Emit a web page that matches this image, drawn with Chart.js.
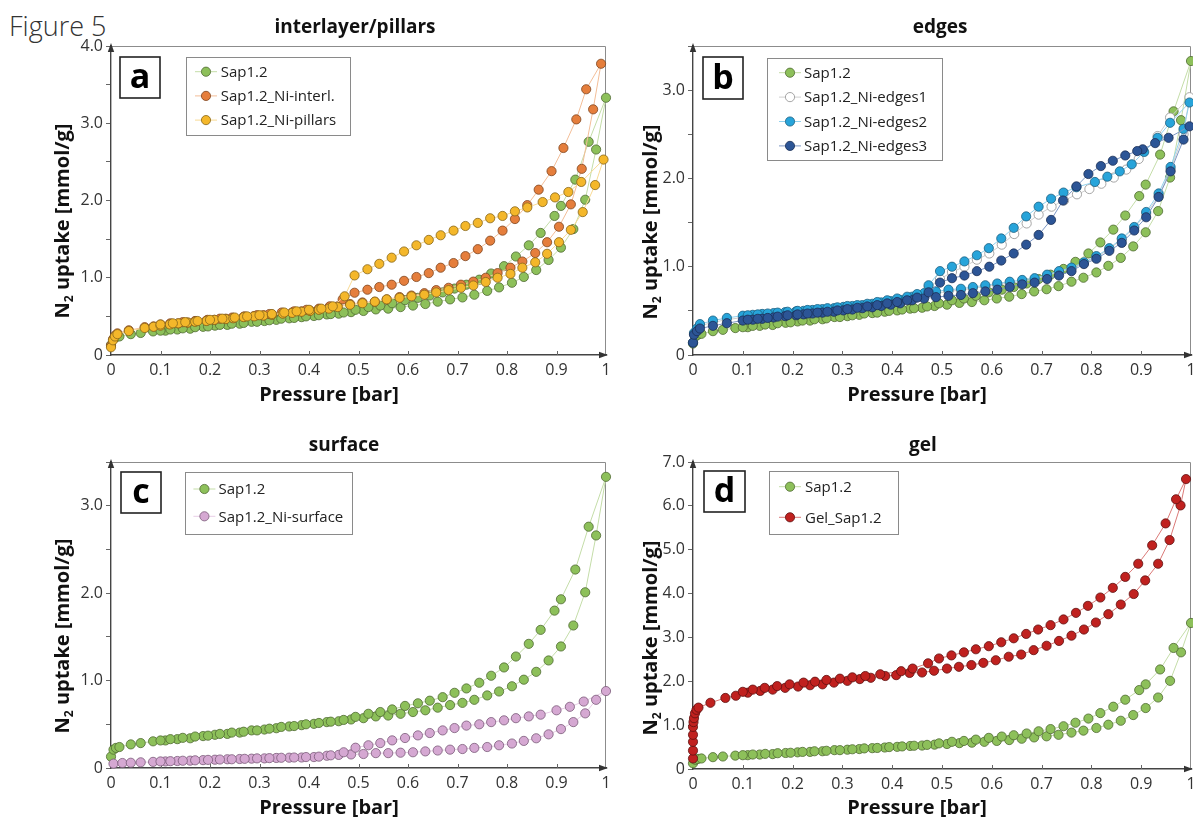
<!DOCTYPE html>
<html><head><meta charset="utf-8">
<script src="https://cdn.jsdelivr.net/npm/chart.js@4.4.1/dist/chart.umd.min.js"></script>
<style>
html,body{margin:0;padding:0;background:#fff;}
body{width:1193px;height:819px;position:relative;overflow:hidden;font-family:'Open Sans',sans-serif;}
#fig{position:absolute;left:9px;top:13px;font-size:27px;line-height:26px;color:#333;font-weight:300;white-space:nowrap;}
canvas{position:absolute;}
</style></head><body>
<div id="fig">Figure 5</div>
<canvas id="ca"></canvas><canvas id="cb"></canvas><canvas id="cc"></canvas><canvas id="cd"></canvas>
<script>
// ---------------- DATA (pressure [bar] / N2 uptake [mmol/g]) ----------------
const sapAdsP = [0, 0.005, 0.01, 0.017, 0.04, 0.06, 0.085, 0.11, 0.134, 0.16, 0.186, 0.21, 0.235, 0.26, 0.284, 0.31, 0.334, 0.36, 0.385, 0.41, 0.436, 0.46, 0.485, 0.51, 0.535, 0.56, 0.585, 0.61, 0.635, 0.66, 0.685, 0.71, 0.734, 0.76, 0.784, 0.81, 0.834, 0.859, 0.884, 0.909, 0.934, 0.958, 0.98, 1.0];
const sapAdsN = [0.13, 0.21, 0.23, 0.24, 0.27, 0.285, 0.305, 0.315, 0.33, 0.34, 0.365, 0.38, 0.39, 0.405, 0.43, 0.44, 0.455, 0.475, 0.49, 0.505, 0.525, 0.535, 0.555, 0.57, 0.59, 0.6, 0.62, 0.64, 0.66, 0.69, 0.72, 0.745, 0.78, 0.83, 0.875, 0.935, 1.01, 1.1, 1.23, 1.39, 1.63, 2.01, 2.66, 3.33];
const sapDesP = [0.965, 0.938, 0.909, 0.896, 0.868, 0.844, 0.818, 0.794, 0.768, 0.744, 0.718, 0.694, 0.67, 0.644, 0.62, 0.594, 0.568, 0.544, 0.52, 0.494, 0.47, 0.444, 0.42, 0.394, 0.37, 0.344, 0.32, 0.295, 0.268, 0.244, 0.22, 0.196, 0.17, 0.145, 0.12, 0.1];
const sapDesN = [2.76, 2.27, 1.93, 1.8, 1.58, 1.42, 1.275, 1.15, 1.055, 0.975, 0.91, 0.86, 0.81, 0.77, 0.74, 0.71, 0.67, 0.64, 0.62, 0.585, 0.55, 0.53, 0.515, 0.5, 0.48, 0.47, 0.45, 0.43, 0.415, 0.405, 0.39, 0.37, 0.36, 0.345, 0.33, 0.315];

const interlAdsP = [0, 0.004, 0.008, 0.013, 0.036, 0.068, 0.086, 0.1, 0.119, 0.136, 0.155, 0.17, 0.193, 0.209, 0.232, 0.247, 0.268, 0.289, 0.308, 0.325, 0.347, 0.366, 0.385, 0.402, 0.42, 0.44, 0.458, 0.483, 0.508, 0.533, 0.557, 0.583, 0.607, 0.633, 0.657, 0.682, 0.707, 0.732, 0.757, 0.781, 0.807, 0.831, 0.857, 0.881, 0.905, 0.929, 0.951, 0.974, 0.99];
const interlAdsN = [0.12, 0.2, 0.25, 0.28, 0.32, 0.36, 0.37, 0.385, 0.4, 0.41, 0.42, 0.435, 0.445, 0.455, 0.47, 0.48, 0.495, 0.505, 0.515, 0.525, 0.54, 0.55, 0.565, 0.575, 0.59, 0.61, 0.63, 0.66, 0.68, 0.69, 0.72, 0.75, 0.77, 0.8, 0.84, 0.87, 0.91, 0.95, 1.0, 1.06, 1.13, 1.21, 1.32, 1.46, 1.66, 1.95, 2.41, 3.18, 3.77];
const interlDesP = [0.96, 0.94, 0.914, 0.89, 0.864, 0.841, 0.816, 0.791, 0.766, 0.741, 0.716, 0.692, 0.666, 0.642, 0.617, 0.592, 0.567, 0.542, 0.518, 0.492, 0.468, 0.442, 0.42, 0.395, 0.37, 0.345, 0.32, 0.295, 0.27, 0.245, 0.22, 0.195, 0.17, 0.145, 0.12, 0.1];
const interlDesN = [3.44, 3.05, 2.68, 2.38, 2.14, 1.94, 1.76, 1.61, 1.48, 1.37, 1.28, 1.19, 1.13, 1.06, 1.01, 0.96, 0.91, 0.88, 0.845, 0.806, 0.72, 0.63, 0.6, 0.585, 0.565, 0.55, 0.53, 0.515, 0.5, 0.485, 0.47, 0.455, 0.44, 0.425, 0.41, 0.395];

const pillarsAdsP = [0, 0.004, 0.008, 0.013, 0.036, 0.068, 0.086, 0.1, 0.119, 0.136, 0.155, 0.17, 0.193, 0.209, 0.232, 0.247, 0.268, 0.289, 0.308, 0.325, 0.347, 0.366, 0.385, 0.402, 0.42, 0.44, 0.458, 0.483, 0.508, 0.533, 0.557, 0.583, 0.607, 0.633, 0.657, 0.682, 0.707, 0.732, 0.757, 0.781, 0.807, 0.831, 0.857, 0.881, 0.905, 0.929, 0.953, 0.978, 0.995];
const pillarsAdsN = [0.1, 0.19, 0.24, 0.27, 0.31, 0.35, 0.365, 0.38, 0.395, 0.41, 0.42, 0.43, 0.44, 0.455, 0.465, 0.475, 0.49, 0.5, 0.51, 0.52, 0.535, 0.545, 0.56, 0.57, 0.585, 0.6, 0.62, 0.65, 0.67, 0.69, 0.72, 0.74, 0.76, 0.78, 0.81, 0.84, 0.87, 0.9, 0.945, 1.0, 1.05, 1.13, 1.2, 1.31, 1.46, 1.62, 1.85, 2.2, 2.53];
const pillarsDesP = [0.95, 0.924, 0.897, 0.872, 0.841, 0.816, 0.791, 0.766, 0.741, 0.716, 0.692, 0.666, 0.642, 0.617, 0.592, 0.567, 0.542, 0.518, 0.492, 0.472, 0.448, 0.425, 0.4, 0.375, 0.35, 0.325, 0.3, 0.275, 0.25, 0.225, 0.2, 0.175, 0.15, 0.125, 0.1];
const pillarsDesN = [2.24, 2.11, 2.04, 1.98, 1.91, 1.86, 1.8, 1.77, 1.71, 1.67, 1.61, 1.55, 1.49, 1.42, 1.34, 1.26, 1.18, 1.11, 1.03, 0.76, 0.63, 0.6, 0.585, 0.565, 0.55, 0.53, 0.515, 0.5, 0.485, 0.47, 0.455, 0.44, 0.425, 0.41, 0.395];

const edgesAdsP = [0, 0.002, 0.008, 0.014, 0.04, 0.068, 0.1, 0.12, 0.139, 0.162, 0.185, 0.207, 0.222, 0.24, 0.26, 0.283, 0.302, 0.32, 0.34, 0.36, 0.378, 0.397, 0.416, 0.44, 0.464, 0.488, 0.513, 0.538, 0.562, 0.587, 0.611, 0.636, 0.661, 0.686, 0.711, 0.735, 0.76, 0.785, 0.81, 0.836, 0.861, 0.886, 0.91, 0.935, 0.959, 0.985, 0.997];
const edges1AdsN = [0.14, 0.24, 0.29, 0.33, 0.37, 0.4, 0.425, 0.435, 0.445, 0.455, 0.465, 0.475, 0.48, 0.49, 0.5, 0.51, 0.525, 0.535, 0.545, 0.56, 0.575, 0.59, 0.605, 0.64, 0.68, 0.7, 0.72, 0.735, 0.755, 0.775, 0.795, 0.815, 0.835, 0.86, 0.9, 0.94, 0.98, 1.04, 1.11, 1.2, 1.31, 1.44, 1.6, 1.8, 2.1, 2.5, 2.92];
const edges1DesP = [0.958, 0.933, 0.895, 0.87, 0.845, 0.82, 0.796, 0.771, 0.745, 0.72, 0.694, 0.67, 0.645, 0.62, 0.595, 0.57, 0.545, 0.52, 0.496, 0.473, 0.45, 0.43, 0.41, 0.39, 0.37, 0.35, 0.33, 0.31, 0.29, 0.27, 0.25, 0.23, 0.21, 0.19, 0.17, 0.15];
const edges1DesN = [2.69, 2.48, 2.22, 2.1, 2.01, 1.94, 1.88, 1.82, 1.75, 1.68, 1.59, 1.49, 1.37, 1.25, 1.15, 1.08, 1.0, 0.94, 0.86, 0.76, 0.67, 0.64, 0.62, 0.6, 0.58, 0.56, 0.545, 0.535, 0.52, 0.51, 0.5, 0.49, 0.48, 0.47, 0.46, 0.45];
const edges2AdsN = [0.14, 0.25, 0.3, 0.35, 0.39, 0.42, 0.445, 0.455, 0.465, 0.475, 0.485, 0.495, 0.5, 0.51, 0.52, 0.53, 0.545, 0.555, 0.565, 0.58, 0.595, 0.61, 0.625, 0.66, 0.7, 0.72, 0.74, 0.75, 0.77, 0.79, 0.81, 0.83, 0.85, 0.87, 0.91, 0.95, 0.99, 1.05, 1.12, 1.21, 1.32, 1.45, 1.62, 1.83, 2.13, 2.56, 2.86];
const edges2DesP = [0.958, 0.933, 0.906, 0.881, 0.857, 0.832, 0.807, 0.77, 0.744, 0.719, 0.694, 0.669, 0.644, 0.619, 0.594, 0.57, 0.545, 0.52, 0.496, 0.473, 0.45, 0.43, 0.41, 0.39, 0.37, 0.35, 0.33, 0.31, 0.29, 0.27, 0.25, 0.23, 0.21, 0.19, 0.17, 0.15, 0.13, 0.11];
const edges2DesN = [2.63, 2.46, 2.3, 2.16, 2.08, 2.02, 1.96, 1.9, 1.84, 1.77, 1.68, 1.57, 1.44, 1.32, 1.21, 1.13, 1.06, 1.0, 0.95, 0.79, 0.69, 0.66, 0.64, 0.62, 0.6, 0.58, 0.565, 0.555, 0.54, 0.53, 0.52, 0.51, 0.5, 0.49, 0.48, 0.47, 0.46, 0.45];
const edges3AdsN = [0.14, 0.23, 0.27, 0.3, 0.33, 0.36, 0.39, 0.4, 0.41, 0.425, 0.44, 0.45, 0.46, 0.47, 0.48, 0.49, 0.505, 0.515, 0.53, 0.54, 0.555, 0.57, 0.585, 0.62, 0.64, 0.655, 0.67, 0.68, 0.7, 0.72, 0.74, 0.77, 0.8, 0.82, 0.86, 0.9, 0.95, 1.03, 1.09, 1.18, 1.27, 1.41, 1.56, 1.79, 2.08, 2.44, 2.59];
const edges3DesP = [0.955, 0.928, 0.903, 0.892, 0.868, 0.843, 0.819, 0.794, 0.77, 0.743, 0.719, 0.694, 0.669, 0.644, 0.619, 0.595, 0.57, 0.545, 0.52, 0.496, 0.473, 0.45, 0.43, 0.41, 0.39, 0.37, 0.35, 0.33, 0.31, 0.29, 0.27, 0.25, 0.23, 0.21, 0.19, 0.17, 0.15, 0.13, 0.11];
const edges3DesN = [2.46, 2.4, 2.33, 2.31, 2.26, 2.2, 2.14, 2.05, 1.91, 1.75, 1.53, 1.36, 1.25, 1.15, 1.07, 1.0, 0.95, 0.9, 0.87, 0.82, 0.71, 0.65, 0.62, 0.6, 0.585, 0.565, 0.55, 0.535, 0.52, 0.505, 0.49, 0.48, 0.47, 0.46, 0.45, 0.435, 0.42, 0.41, 0.4];

const surfAdsP = [0.005, 0.023, 0.04, 0.06, 0.085, 0.11, 0.134, 0.16, 0.186, 0.21, 0.235, 0.26, 0.284, 0.31, 0.334, 0.36, 0.385, 0.41, 0.436, 0.46, 0.485, 0.51, 0.535, 0.56, 0.585, 0.61, 0.635, 0.66, 0.685, 0.71, 0.734, 0.76, 0.784, 0.81, 0.834, 0.859, 0.884, 0.909, 0.934, 0.958, 0.98, 1.0];
const surfAdsN = [0.05, 0.057, 0.06, 0.065, 0.07, 0.075, 0.08, 0.084, 0.09, 0.095, 0.1, 0.103, 0.107, 0.11, 0.115, 0.118, 0.12, 0.125, 0.14, 0.15, 0.155, 0.16, 0.17, 0.17, 0.175, 0.18, 0.19, 0.2, 0.21, 0.217, 0.23, 0.24, 0.26, 0.28, 0.31, 0.34, 0.385, 0.445, 0.525, 0.625, 0.78, 0.88];
const surfDesP = [0.955, 0.927, 0.9, 0.868, 0.844, 0.818, 0.794, 0.768, 0.744, 0.718, 0.694, 0.67, 0.644, 0.62, 0.594, 0.568, 0.544, 0.52, 0.494, 0.47, 0.444, 0.42, 0.394, 0.37, 0.344, 0.32, 0.295, 0.27, 0.244, 0.22, 0.196, 0.17, 0.145, 0.12, 0.1];
const surfDesN = [0.76, 0.7, 0.66, 0.61, 0.59, 0.57, 0.545, 0.525, 0.5, 0.485, 0.457, 0.43, 0.4, 0.373, 0.343, 0.316, 0.285, 0.26, 0.232, 0.18, 0.145, 0.13, 0.125, 0.12, 0.117, 0.113, 0.11, 0.105, 0.1, 0.097, 0.093, 0.088, 0.083, 0.078, 0.075];

const gelAdsP = [0, 0, 0, 0, 0, 0.001, 0.002, 0.004, 0.007, 0.011, 0.035, 0.065, 0.086, 0.11, 0.135, 0.16, 0.185, 0.211, 0.235, 0.26, 0.283, 0.31, 0.335, 0.357, 0.386, 0.408, 0.435, 0.46, 0.484, 0.51, 0.534, 0.559, 0.583, 0.608, 0.634, 0.659, 0.684, 0.71, 0.735, 0.76, 0.785, 0.809, 0.834, 0.859, 0.885, 0.908, 0.934, 0.957, 0.979, 0.99];
const gelAdsN = [0.24, 0.42, 0.62, 0.78, 0.96, 1.07, 1.16, 1.27, 1.35, 1.4, 1.51, 1.62, 1.67, 1.74, 1.78, 1.81, 1.85, 1.88, 1.91, 1.93, 1.97, 2.01, 2.05, 2.08, 2.12, 2.14, 2.19, 2.2, 2.24, 2.29, 2.33, 2.37, 2.42, 2.48, 2.56, 2.61, 2.71, 2.81, 2.92, 3.04, 3.18, 3.34, 3.53, 3.75, 3.99, 4.3, 4.68, 5.22, 6.01, 6.61];
const gelDesP = [0.97, 0.949, 0.922, 0.894, 0.868, 0.843, 0.818, 0.793, 0.769, 0.744, 0.718, 0.693, 0.669, 0.644, 0.619, 0.594, 0.568, 0.544, 0.519, 0.494, 0.472, 0.441, 0.418, 0.376, 0.346, 0.32, 0.295, 0.268, 0.245, 0.222, 0.194, 0.169, 0.144, 0.12, 0.1];
const gelDesN = [6.15, 5.6, 5.1, 4.68, 4.38, 4.13, 3.91, 3.72, 3.56, 3.41, 3.28, 3.18, 3.08, 2.98, 2.89, 2.8, 2.73, 2.66, 2.59, 2.52, 2.41, 2.29, 2.23, 2.16, 2.12, 2.09, 2.06, 2.03, 1.99, 1.97, 1.93, 1.89, 1.85, 1.81, 1.76];

const xTicks = [0, 0.1, 0.2, 0.3, 0.4, 0.5, 0.6, 0.7, 0.8, 0.9, 1];
const panelTitles = ['interlayer/pillars', 'edges', 'surface', 'gel'];
const panelLetters = ['a', 'b', 'c', 'd'];
const xTitle = 'Pressure [bar]';
const yTitleParts = ['N', '2', ' uptake [mmol/g]'];

// ---------------- STYLES ----------------
const STYLE = {
  sap:     {fill:'#8DC05A', edge:'#4f6a32', line:'#C4DDA8'},
  interl:  {fill:'#E57E3C', edge:'#7d4520', line:'#F3BE98'},
  pillars: {fill:'#F4B72A', edge:'#86661a', line:'#F8DA94'},
  edges1:  {fill:'#FFFFFF', edge:'#8f8f8f', line:'#CFCFCF'},
  edges2:  {fill:'#27A4DA', edge:'#1d5f80', line:'#92D2EE'},
  edges3:  {fill:'#2C5596', edge:'#1a2f55', line:'#7D97C4'},
  surf:    {fill:'#D5A8D2', edge:'#7a5a78', line:'#E8CDE6'},
  gel:     {fill:'#C0211F', edge:'#5e1010', line:'#DB7A78'}
};
const FONT = "'Open Sans','Noto Sans','DejaVu Sans',sans-serif";
const YW = 48, XH = 28;

const LAYOUT = {
  a: {canvas:[0,0,625,412],   area:{l:111,r:606,t:46,b:355},  title:{x:355,y:33},  yt:{x:68.5,y:221}, xt:{x:329,y:401},
      letter:{x:120,y:57,w:40,h:41},   legend:{x:186,y:57,w:164,h:78,y0:71.7,dy:24.2,mx:206,tx:220.7}},
  b: {canvas:[612,0,595,412], area:{l:693,r:1191,t:46,b:355}, title:{x:940,y:33},  yt:{x:656.5,y:222}, xt:{x:917,y:401},
      letter:{x:703,y:57,w:40,h:42},   legend:{x:767,y:58,w:175,h:102,y0:72.7,dy:24.4,mx:790,tx:804}},
  c: {canvas:[0,412,625,407], area:{l:111,r:606,t:462,b:768},  title:{x:344,y:451}, yt:{x:68.5,y:636}, xt:{x:329,y:814},
      letter:{x:121,y:472,w:40,h:41},  legend:{x:185,y:472,w:167,h:62,y0:489,dy:27.3,mx:204.4,tx:218.5}},
  d: {canvas:[612,412,595,407], area:{l:693,r:1191,t:462,b:769}, title:{x:923,y:451}, yt:{x:656.5,y:638}, xt:{x:917,y:814},
      letter:{x:704,y:471,w:41,h:41},  legend:{x:769,y:471,w:129,h:63,y0:486.7,dy:30.6,mx:790,tx:805}}
};

function pts(P, N) { return P.map((p, i) => ({x: p, y: N[i]})); }
function loop(label, st, aP, aN, dP, dN) {
  return {label, st, data: pts(aP, aN).concat(pts(dP, dN))};
}

const SAP = () => loop('Sap1.2', STYLE.sap, sapAdsP, sapAdsN, sapDesP, sapDesN);

function fmtX(v) {
  if (Math.abs(v) < 1e-9) return '0';
  if (Math.abs(v - 1) < 1e-9) return '1';
  return v.toFixed(1);
}
function fmtY(v) {
  if (Math.abs(v) < 1e-9) return '0';
  if (Math.abs(v - Math.round(v)) < 1e-9) return v.toFixed(1);
  return '';
}

function decoPlugin(key, idx) {
  const L = LAYOUT[key];
  const cx = L.canvas[0], cy = L.canvas[1];
  const X = v => v - cx, Y = v => v - cy;
  return {
    id: 'deco',
    beforeDatasetsDraw(chart) {
      const ctx = chart.ctx, a = chart.chartArea, xs = chart.scales.x;
      ctx.save();
      ctx.strokeStyle = '#8c8c8c'; ctx.lineWidth = 1;
      ctx.beginPath();
      ctx.moveTo(a.left, a.top + 0.5); ctx.lineTo(a.right - 0.5, a.top + 0.5); ctx.lineTo(a.right - 0.5, a.bottom);
      ctx.stroke();
      ctx.strokeStyle = '#666';
      xs.ticks.forEach(t => {
        if (t.value <= 1e-9 || t.value >= 1 - 1e-9) return;
        const px = Math.round(xs.getPixelForValue(t.value)) + 0.5;
        ctx.beginPath(); ctx.moveTo(px, a.bottom); ctx.lineTo(px, a.bottom - 4); ctx.stroke();
      });
      ctx.fillStyle = '#333';
      ctx.beginPath(); ctx.moveTo(a.left, a.top - 3); ctx.lineTo(a.left - 3.2, a.top + 6); ctx.lineTo(a.left + 3.2, a.top + 6); ctx.closePath(); ctx.fill();
      ctx.beginPath(); ctx.moveTo(a.right + 2, a.bottom); ctx.lineTo(a.right - 7, a.bottom - 3.2); ctx.lineTo(a.right - 7, a.bottom + 3.2); ctx.closePath(); ctx.fill();
      ctx.restore();
    },
    afterDraw(chart) {
      const ctx = chart.ctx;
      ctx.save();
      // panel title
      ctx.fillStyle = '#111'; ctx.textAlign = 'center'; ctx.textBaseline = 'alphabetic';
      ctx.font = `bold 19px ${FONT}`;
      ctx.fillText(panelTitles[idx], X(L.title.x), Y(L.title.y));
      // x axis title
      ctx.font = `bold 20px ${FONT}`;
      ctx.fillText(xTitle, X(L.xt.x), Y(L.xt.y));
      // y axis title with subscript
      ctx.save();
      ctx.translate(X(L.yt.x), Y(L.yt.y));
      ctx.rotate(-Math.PI / 2);
      const fonts = [`bold 20px ${FONT}`, `bold 12px ${FONT}`, `bold 20px ${FONT}`];
      const offs = [0, 4, 0];
      let widths = yTitleParts.map((s, i) => { ctx.font = fonts[i]; return ctx.measureText(s).width; });
      let total = widths.reduce((s, w) => s + w, 0);
      let xx = -total / 2;
      ctx.textAlign = 'left';
      yTitleParts.forEach((s, i) => { ctx.font = fonts[i]; ctx.fillText(s, xx, offs[i]); xx += widths[i]; });
      ctx.restore();
      // letter box
      const lt = L.letter;
      ctx.fillStyle = '#fff'; ctx.fillRect(X(lt.x), Y(lt.y), lt.w, lt.h);
      ctx.strokeStyle = '#222'; ctx.lineWidth = 1.6;
      ctx.strokeRect(X(lt.x), Y(lt.y), lt.w, lt.h);
      ctx.fillStyle = '#000'; ctx.font = `bold 34px ${FONT}`; ctx.textAlign = 'center'; ctx.textBaseline = 'middle';
      ctx.fillText(panelLetters[idx], X(lt.x + lt.w / 2), Y(lt.y + lt.h / 2) + 1);
      // legend
      const lg = L.legend;
      ctx.fillStyle = '#fff'; ctx.fillRect(X(lg.x), Y(lg.y), lg.w, lg.h);
      ctx.strokeStyle = '#8a8a8a'; ctx.lineWidth = 1;
      ctx.strokeRect(X(lg.x) + 0.5, Y(lg.y) + 0.5, lg.w, lg.h);
      chart.data.datasets.forEach((ds, i) => {
        const yy = Y(lg.y0 + i * lg.dy), mx = X(lg.mx);
        ctx.strokeStyle = ds.borderColor; ctx.lineWidth = 1;
        ctx.beginPath(); ctx.moveTo(mx - 11, yy); ctx.lineTo(mx + 11, yy); ctx.stroke();
        ctx.beginPath(); ctx.arc(mx, yy, 4.6, 0, Math.PI * 2);
        ctx.fillStyle = ds.pointBackgroundColor; ctx.fill();
        ctx.lineWidth = 0.8; ctx.strokeStyle = ds.pointBorderColor; ctx.stroke();
        ctx.fillStyle = '#222'; ctx.font = `15px ${FONT}`; ctx.textAlign = 'left'; ctx.textBaseline = 'middle';
        ctx.fillText(ds.label, X(lg.tx), yy + 1);
      });
      ctx.restore();
    }
  };
}

function makeChart(id, key, idx, list, yMax, yStep) {
  const L = LAYOUT[key];
  const [cx, cy, cw, ch] = L.canvas;
  const cv = document.getElementById(id);
  cv.width = cw; cv.height = ch;
  cv.style.left = cx + 'px'; cv.style.top = cy + 'px';
  cv.style.width = cw + 'px'; cv.style.height = ch + 'px';
  const n = list.length;
  return new Chart(cv, {
    type: 'scatter',
    data: {
      datasets: list.map((s, i) => ({
        label: s.label, data: s.data, showLine: true, tension: 0,
        borderColor: s.st.line, borderWidth: 1,
        pointBackgroundColor: s.st.fill, pointBorderColor: s.st.edge, pointBorderWidth: 0.8,
        pointRadius: 4.6, pointHoverRadius: 4.6, order: n - i, clip: 8
      }))
    },
    options: {
      responsive: false, animation: false, devicePixelRatio: 1,
      events: [],
      layout: { padding: { left: L.area.l - cx - YW, right: cx + cw - L.area.r, top: L.area.t - cy, bottom: cy + ch - L.area.b - XH } },
      plugins: { legend: { display: false }, tooltip: { enabled: false }, title: { display: false } },
      scales: {
        x: {
          type: 'linear', min: 0, max: 1,
          afterFit: s => { s.height = XH; },
          afterBuildTicks: s => { s.ticks = xTicks.map(v => ({value: v})); },
          ticks: { padding: 6, color: '#333', font: { family: FONT, size: 16 }, maxRotation: 0, autoSkip: false, callback: fmtX },
          grid: { display: false, drawTicks: false },
          border: { display: true, color: '#444', width: 1.4 }
        },
        y: {
          type: 'linear', min: 0, max: yMax,
          afterFit: s => { s.width = YW; },
          ticks: { stepSize: yStep, padding: 3, color: '#333', font: { family: FONT, size: 16 }, autoSkip: false, callback: fmtY },
          grid: { display: true, drawOnChartArea: false, drawTicks: true, tickLength: 5, color: '#666' },
          border: { display: true, color: '#444', width: 1.4 }
        }
      }
    },
    plugins: [decoPlugin(key, idx)]
  });
}

makeChart('ca', 'a', 0, [
  SAP(),
  loop('Sap1.2_Ni-interl.', STYLE.interl, interlAdsP, interlAdsN, interlDesP, interlDesN),
  loop('Sap1.2_Ni-pillars', STYLE.pillars, pillarsAdsP, pillarsAdsN, pillarsDesP, pillarsDesN)
], 4, 0.5);

makeChart('cb', 'b', 1, [
  SAP(),
  loop('Sap1.2_Ni-edges1', STYLE.edges1, edgesAdsP, edges1AdsN, edges1DesP, edges1DesN),
  loop('Sap1.2_Ni-edges2', STYLE.edges2, edgesAdsP, edges2AdsN, edges2DesP, edges2DesN),
  loop('Sap1.2_Ni-edges3', STYLE.edges3, edgesAdsP, edges3AdsN, edges3DesP, edges3DesN)
], 3.5, 0.5);

makeChart('cc', 'c', 2, [
  SAP(),
  loop('Sap1.2_Ni-surface', STYLE.surf, surfAdsP, surfAdsN, surfDesP, surfDesN)
], 3.5, 0.5);

makeChart('cd', 'd', 3, [
  SAP(),
  loop('Gel_Sap1.2', STYLE.gel, gelAdsP, gelAdsN, gelDesP, gelDesN)
], 7, 1);
</script>
</body></html>
